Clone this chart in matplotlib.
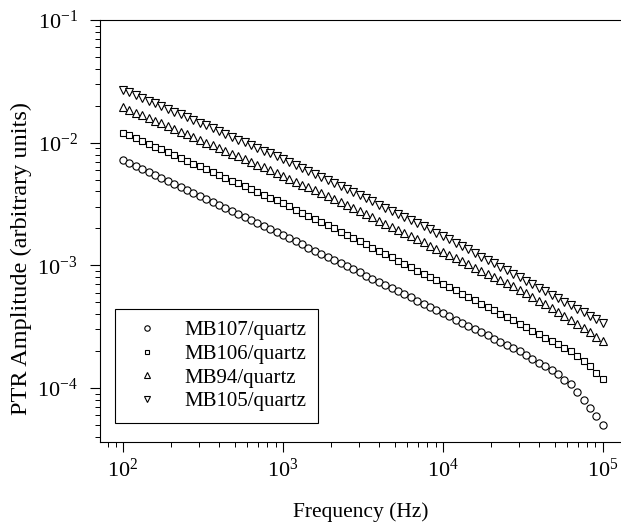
import matplotlib
matplotlib.use('Agg')
import matplotlib.pyplot as plt
from matplotlib.ticker import LogLocator

plt.rcParams['font.family'] = ['Liberation Serif', 'DejaVu Serif']
plt.rcParams['mathtext.fontset'] = 'custom'
plt.rcParams['mathtext.rm'] = 'Liberation Serif'
plt.rcParams['mathtext.it'] = 'Liberation Serif:italic'

# frequency points (Hz)
freq = [100, 109.6, 120.2, 131.8, 144.5, 158.5, 173.8, 190.5, 208.9, 229.1, 251.2, 275.4,
        302.0, 331.1, 363.1, 398.1, 436.5, 478.6, 524.8, 575.4, 631.0, 691.8, 758.6, 831.8,
        912.0, 1000, 1096, 1202, 1318, 1445, 1585, 1738, 1905, 2089, 2291, 2512, 2754, 3020,
        3311, 3631, 3981, 4365, 4786, 5248, 5754, 6310, 6918, 7586, 8318, 9120, 10000, 10965,
        12023, 13183, 14454, 15849, 17378, 19055, 20893, 22909, 25119, 27542, 30200, 33113,
        36308, 39811, 43652, 47863, 52481, 57544, 63096, 69183, 75858, 83176, 91201, 100000]

mb107 = [7.18e-3, 6.79e-3, 6.41e-3, 6.07e-3, 5.73e-3, 5.42e-3, 5.12e-3, 4.84e-3, 4.57e-3,
         4.33e-3, 4.08e-3, 3.86e-3, 3.65e-3, 3.45e-3, 3.26e-3, 3.08e-3, 2.92e-3, 2.75e-3,
         2.61e-3, 2.46e-3, 2.33e-3, 2.20e-3, 2.08e-3, 1.97e-3, 1.86e-3, 1.76e-3, 1.66e-3,
         1.57e-3, 1.48e-3, 1.39e-3, 1.32e-3, 1.24e-3, 1.17e-3, 1.10e-3, 1.04e-3, 9.84e-4,
         9.29e-4, 8.75e-4, 8.26e-4, 7.80e-4, 7.35e-4, 6.92e-4, 6.53e-4, 6.15e-4, 5.81e-4,
         5.47e-4, 5.15e-4, 4.86e-4, 4.58e-4, 4.33e-4, 4.07e-4, 3.84e-4, 3.61e-4, 3.40e-4,
         3.21e-4, 3.02e-4, 2.84e-4, 2.69e-4, 2.53e-4, 2.38e-4, 2.24e-4, 2.11e-4, 1.99e-4,
         1.86e-4, 1.73e-4, 1.61e-4, 1.50e-4, 1.40e-4, 1.29e-4, 1.17e-4, 1.07e-4, 9.27e-5,
         8.02e-5, 6.90e-5, 5.89e-5, 5.04e-5]

mb106 = [1.21e-2, 1.15e-2, 1.09e-2, 1.03e-2, 9.80e-3, 9.29e-3, 8.81e-3, 8.36e-3, 7.91e-3,
         7.50e-3, 7.11e-3, 6.75e-3, 6.40e-3, 6.06e-3, 5.75e-3, 5.46e-3, 5.18e-3, 4.91e-3,
         4.66e-3, 4.42e-3, 4.19e-3, 3.97e-3, 3.77e-3, 3.57e-3, 3.39e-3, 3.21e-3, 3.03e-3,
         2.85e-3, 2.69e-3, 2.53e-3, 2.38e-3, 2.25e-3, 2.12e-3, 2.00e-3, 1.88e-3, 1.77e-3,
         1.67e-3, 1.57e-3, 1.48e-3, 1.39e-3, 1.31e-3, 1.23e-3, 1.16e-3, 1.09e-3, 1.02e-3,
         9.62e-4, 9.06e-4, 8.51e-4, 8.00e-4, 7.53e-4, 7.08e-4, 6.65e-4, 6.25e-4, 5.86e-4,
         5.51e-4, 5.18e-4, 4.86e-4, 4.57e-4, 4.29e-4, 4.03e-4, 3.78e-4, 3.56e-4, 3.34e-4,
         3.13e-4, 2.94e-4, 2.75e-4, 2.58e-4, 2.42e-4, 2.27e-4, 2.13e-4, 2.00e-4, 1.82e-4,
         1.66e-4, 1.50e-4, 1.33e-4, 1.19e-4]

mb94 = [1.95e-2, 1.86e-2, 1.76e-2, 1.67e-2, 1.59e-2, 1.51e-2, 1.44e-2, 1.36e-2, 1.29e-2,
        1.23e-2, 1.17e-2, 1.11e-2, 1.05e-2, 1.00e-2, 9.49e-3, 9.02e-3, 8.57e-3, 8.13e-3,
        7.73e-3, 7.35e-3, 6.97e-3, 6.62e-3, 6.28e-3, 5.97e-3, 5.68e-3, 5.38e-3, 5.09e-3,
        4.82e-3, 4.56e-3, 4.32e-3, 4.08e-3, 3.86e-3, 3.65e-3, 3.45e-3, 3.27e-3, 3.09e-3,
        2.92e-3, 2.77e-3, 2.61e-3, 2.47e-3, 2.32e-3, 2.19e-3, 2.07e-3, 1.95e-3, 1.84e-3,
        1.73e-3, 1.63e-3, 1.54e-3, 1.45e-3, 1.37e-3, 1.29e-3, 1.21e-3, 1.15e-3, 1.08e-3,
        1.02e-3, 9.59e-4, 9.04e-4, 8.53e-4, 8.04e-4, 7.59e-4, 7.15e-4, 6.73e-4, 6.35e-4,
        5.95e-4, 5.53e-4, 5.15e-4, 4.80e-4, 4.47e-4, 4.16e-4, 3.87e-4, 3.61e-4, 3.35e-4,
        3.10e-4, 2.86e-4, 2.62e-4, 2.40e-4]

mb105 = [2.70e-2, 2.57e-2, 2.44e-2, 2.32e-2, 2.20e-2, 2.09e-2, 1.99e-2, 1.89e-2, 1.79e-2,
         1.70e-2, 1.62e-2, 1.53e-2, 1.46e-2, 1.39e-2, 1.31e-2, 1.25e-2, 1.18e-2, 1.12e-2,
         1.06e-2, 1.01e-2, 9.57e-3, 9.08e-3, 8.61e-3, 8.17e-3, 7.74e-3, 7.35e-3, 6.95e-3,
         6.56e-3, 6.21e-3, 5.86e-3, 5.55e-3, 5.24e-3, 4.95e-3, 4.68e-3, 4.43e-3, 4.18e-3,
         3.95e-3, 3.73e-3, 3.52e-3, 3.33e-3, 3.13e-3, 2.96e-3, 2.79e-3, 2.63e-3, 2.48e-3,
         2.34e-3, 2.21e-3, 2.08e-3, 1.96e-3, 1.85e-3, 1.75e-3, 1.64e-3, 1.53e-3, 1.44e-3,
         1.35e-3, 1.26e-3, 1.18e-3, 1.11e-3, 1.04e-3, 9.75e-4, 9.12e-4, 8.55e-4, 8.02e-4,
         7.52e-4, 7.03e-4, 6.58e-4, 6.15e-4, 5.75e-4, 5.40e-4, 5.05e-4, 4.72e-4, 4.42e-4,
         4.13e-4, 3.87e-4, 3.62e-4, 3.39e-4]

series_lst = [('MB107/quartz', mb107, 'o', 5.2),
              ('MB106/quartz', mb106, 's', 4.8),
              ('MB94/quartz', mb94, '^', 5.6),
              ('MB105/quartz', mb105, 'v', 5.6)]

fig = plt.figure(figsize=(6.21, 5.22), dpi=100)
ax = fig.add_axes([100 / 621, 80 / 522, 521 / 621, 422 / 522])

for label, values, marker, ms in series_lst:
    ax.plot(freq, values, linestyle='none', marker=marker, markersize=ms,
            markerfacecolor='white', markeredgecolor='black', markeredgewidth=0.8,
            label=label)

ax.set_xscale('log')
ax.set_yscale('log')
ax.set_xlim(71.8, 1.3e5)
ax.set_ylim(3.63e-5, 1e-1)

ax.xaxis.set_major_locator(LogLocator(base=10, numticks=10))
ax.yaxis.set_major_locator(LogLocator(base=10, numticks=10))
ax.tick_params(which='major', direction='out', length=7, width=0.8, labelsize=16)
ax.tick_params(axis='x', which='major', pad=5)
ax.tick_params(axis='y', which='major', pad=9)
ax.tick_params(which='minor', direction='out', length=3.5, width=0.7)
ax.tick_params(top=False, right=False, which='both')

ax.spines['right'].set_visible(False)
for side in ['left', 'bottom', 'top']:
    ax.spines[side].set_linewidth(0.8)

ax.set_xlabel('Frequency (Hz)', fontsize=15.5)
ax.xaxis.set_label_coords(0.5, -0.142)
ax.set_ylabel('PTR Amplitude (arbitrary units)', fontsize=17.5)
ax.yaxis.set_label_coords(-0.13, 0.436)

leg = ax.legend(loc='upper left', bbox_to_anchor=(0.0288, 0.315), borderaxespad=0,
                fontsize=15, frameon=True, fancybox=False, framealpha=1,
                edgecolor='black', markerscale=0.75, handletextpad=0.8,
                labelspacing=0.2, borderpad=0.55, handlelength=2.0)
leg.get_frame().set_linewidth(0.8)

plt.savefig('out.png', dpi=100)
